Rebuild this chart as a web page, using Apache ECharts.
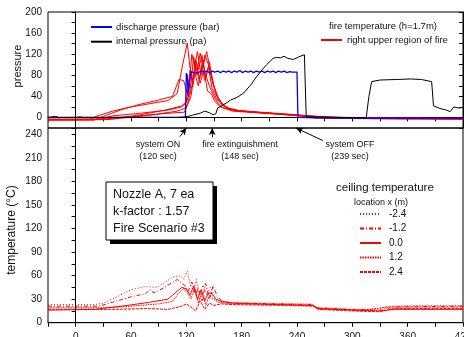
<!DOCTYPE html>
<html>
<head>
<meta charset="utf-8">
<script src="https://cdn.jsdelivr.net/npm/echarts@6/dist/echarts.min.js"></script>
<style>
  html, body { margin: 0; padding: 0; background: #fff; }
  #chart { width: 464px; height: 337px; }
</style>
</head>
<body>
<div id="chart"></div>
<script>
// time axis (sec) and tick labels
const timeTicks = [0, 60, 120, 180, 240, 300, 360, 420];
const pressureTicks = [0, 40, 80, 120, 160, 200];
const tempTicks = [0, 30, 60, 90, 120, 150, 180, 210, 240];
const eventTimes = [120, 148, 239];

// top panel: [time, value]
const dischargeP = [[-30,0],[119,0],[120,84],[121,80],[122,45],[124,44],[125,87],[128,85],[130,88],[133,85],[136,88],[139,86],[142,88],[145,85],[148,88],[151,86],[154,88],[157,85],[160,88],[163,86],[166,88],[169,85],[172,88],[175,86],[178,89],[181,85],[184,88],[187,86],[190,88],[193,85],[196,88],[199,86],[202,88],[205,85],[208,88],[211,86],[214,88],[217,85],[220,88],[223,86],[226,88],[229,85],[232,87],[235,86],[240,86],[241,0],[270,-1],[420,-1]];
const internalP = [[-30,0],[-22,2],[-18,0],[0,0],[5,1],[8,0],[60,0],[110,0],[119,1],[122,2],[128,5],[135,8],[140,12],[145,9],[149,5],[152,7],[154,18],[158,22],[163,27],[168,33],[175,38],[182,46],[190,62],[196,77],[202,90],[207,100],[214,112],[218,114],[222,113],[226,116],[230,112],[236,110],[242,115],[248,119],[250,2],[260,1],[290,0],[315,-1],[318,40],[321,68],[330,71],[348,72],[363,73],[375,72],[386,68],[388,22],[395,17],[402,14],[406,11],[410,20],[415,18],[420,19]];
const fireT1 = [[-30,-4],[15,-4],[22,2],[40,12],[60,20],[80,26],[100,32],[110,45],[116,100],[121,141],[124,95],[127,70],[130,110],[133,90],[137,118],[140,85],[145,60],[150,40],[155,25],[160,18],[170,14],[200,9],[240,4],[260,-1],[300,-2],[360,-3],[420,-3]];
const fireT2 = [[-30,-5],[20,-5],[30,2],[50,15],[70,25],[90,33],[105,40],[112,72],[117,70],[122,40],[126,120],[129,95],[132,125],[136,80],[140,118],[144,100],[148,70],[152,45],[158,28],[165,18],[180,12],[220,7],[250,2],[300,-2],[420,-3]];
const fireT3 = [[-30,-4],[25,-4],[40,3],[70,8],[100,14],[115,20],[120,28],[124,50],[128,115],[131,80],[135,122],[138,95],[142,125],[146,90],[150,60],[155,35],[162,20],[175,13],[210,8],[245,3],[300,-1],[420,-2]];
const fireT4 = [[-30,-3],[30,-3],[60,2],[100,8],[118,10],[122,30],[126,60],[130,100],[134,70],[138,110],[141,75],[145,105],[149,65],[153,40],[160,22],[170,14],[200,10],[240,5],[280,0],[420,-2]];
const fireT5 = [[-30,-4],[40,-3],[80,4],[110,12],[120,18],[125,40],[129,85],[133,60],[137,100],[140,70],[144,95],[148,55],[152,38],[158,25],[168,15],[190,10],[230,6],[270,0],[420,-3]];
const fireT6 = [[-30,-5],[35,-4],[70,5],[100,15],[115,22],[120,30],[124,90],[127,60],[131,105],[135,65],[139,90],[143,50],[147,45],[151,30],[157,20],[170,12],[220,6],[260,1],[420,-3]];

// bottom panel: ceiling temperature by location x (m)
const ceilM24 = [[-30,23],[20,23],[30,25],[45,33],[60,42],[75,46],[88,45],[95,50],[105,58],[112,60],[117,55],[121,66],[124,50],[128,40],[131,55],[134,30],[138,48],[142,35],[146,45],[150,32],[156,28],[165,26],[200,25],[240,24],[255,24],[262,19],[290,17],[320,16],[340,21],[380,22],[420,22]];
const ceilM12 = [[-30,21],[25,21],[40,26],[60,33],[76,37],[80,42],[85,38],[95,44],[110,55],[118,48],[122,40],[126,52],[130,35],[133,45],[137,28],[141,50],[145,30],[149,47],[153,35],[158,28],[170,25],[220,24],[256,23],[262,19],[300,17],[330,16],[345,20],[420,21]];
const ceil00 = [[-30,16],[20,17],[50,21],[80,26],[100,30],[108,38],[115,45],[120,43],[124,35],[128,47],[132,30],[136,42],[140,28],[144,38],[148,37],[152,30],[158,27],[170,25],[220,23],[257,22],[262,18],[300,16],[330,15],[345,17],[420,17]];
const ceil12 = [[-30,19],[30,19],[60,21],[90,24],[105,27],[110,35],[117,44],[121,38],[125,30],[129,45],[133,25],[137,38],[141,22],[145,35],[149,30],[155,26],[170,24],[230,23],[258,22],[263,18],[310,16],[340,20],[420,20]];
const ceil24 = [[-30,17],[40,17],[80,18],[100,17],[115,21],[120,24],[125,20],[130,15],[135,28],[140,17],[145,25],[150,22],[158,24],[170,23],[230,22],[258,21],[263,17],[300,15],[330,14],[345,18],[420,18]];

const FONT = '"Liberation Sans", Arial, sans-serif';
const RED = '#ff0000';
const TXT = '#111';

const chart = echarts.init(document.getElementById('chart'), null, { renderer: 'canvas' });

function fireSeries(data) {
  return {
    name: 'right upper region of fire', type: 'line', xAxisIndex: 0, yAxisIndex: 0,
    data: data, showSymbol: false, symbol: 'none',
    lineStyle: { color: RED, width: 1 }, itemStyle: { color: RED }
  };
}

function ceilSeries(name, data, dash, extra) {
  return Object.assign({
    name: name, type: 'line', xAxisIndex: 1, yAxisIndex: 2,
    data: data, showSymbol: false, symbol: 'none',
    lineStyle: { color: RED, width: 1, type: dash }, itemStyle: { color: RED }
  }, extra || {});
}

const tickLabel = { fontSize: 10, fontFamily: FONT, color: TXT };
// legend shows the line only, no symbol
const noSymbol = { opacity: 0 };

const option = {
  animation: false,
  backgroundColor: '#fff',
  grid: [
    { left: 48, right: 1, top: 12, height: 116, outerBoundsMode: 'none', show: true, borderColor: '#000', borderWidth: 1, backgroundColor: 'transparent' },
    { left: 48, right: 1, top: 128, bottom: 14.3, outerBoundsMode: 'none', show: true, borderColor: '#000', borderWidth: 1, backgroundColor: 'transparent' }
  ],
  xAxis: [
    {
      type: 'value', gridIndex: 0, min: -30, max: 420, interval: 30,
      axisLine: { lineStyle: { color: '#000' } },
      axisTick: { length: 4, lineStyle: { color: '#000' } },
      axisLabel: { show: false },
      splitLine: { show: false }
    },
    {
      type: 'value', gridIndex: 1, min: -30, max: 420, interval: 30,
      axisLine: { lineStyle: { color: '#000' } },
      axisTick: { length: 4, lineStyle: { color: '#000' } },
      axisLabel: Object.assign({ margin: 10, formatter: v => timeTicks.includes(v) ? String(v) : '' }, tickLabel),
      splitLine: { show: false }
    }
  ],
  yAxis: [
    {
      type: 'value', gridIndex: 0, min: -20, max: 200, interval: 20,
      axisLine: { show: true, lineStyle: { color: '#000' } },
      axisTick: { show: true, length: 4, lineStyle: { color: '#000' } },
      axisLabel: Object.assign({ margin: 6, formatter: v => pressureTicks.includes(v) ? String(v) : '' }, tickLabel),
      splitLine: { show: false }
    },
    {
      type: 'value', gridIndex: 0, position: 'right', min: -20, max: 200, interval: 20,
      axisLine: { show: true, lineStyle: { color: '#000' } },
      axisTick: { show: true, inside: true, length: 4, lineStyle: { color: '#000' } },
      axisLabel: { show: false },
      splitLine: { show: false }
    },
    {
      type: 'value', gridIndex: 1, min: 0, max: 248, interval: 15,
      axisLine: { show: true, lineStyle: { color: '#000' } },
      axisTick: { show: true, length: 4, lineStyle: { color: '#000' } },
      axisLabel: Object.assign({ margin: 6, showMaxLabel: false, formatter: v => tempTicks.includes(v) ? String(v) : '' }, tickLabel),
      splitLine: { show: false }
    }
  ],
  legend: [
    {
      data: ['discharge pressure (bar)', 'internal pressure (pa)'],
      orient: 'vertical', left: 90, top: 22, padding: 0,
      itemWidth: 21, itemHeight: 8, itemGap: 4.7, itemStyle: noSymbol,
      textStyle: { fontSize: 9.5, fontFamily: FONT, color: TXT, padding: [0, 0, 0, -1] }
    },
    {
      data: ['right upper region of fire'],
      orient: 'vertical', left: 320, top: 35, padding: 0,
      itemWidth: 21, itemHeight: 8, itemStyle: noSymbol,
      textStyle: { fontSize: 9.5, fontFamily: FONT, color: TXT }
    },
    {
      data: ['-2.4', '-1.2', '0.0', '1.2', '2.4'],
      orient: 'vertical', left: 359, top: 209, padding: 0,
      itemWidth: 21, itemHeight: 8, itemGap: 4.5, itemStyle: noSymbol,
      textStyle: { fontSize: 10, fontFamily: FONT, color: TXT, padding: [0, 0, 0, 3] }
    }
  ],
  graphic: [
    { type: 'text', left: 329, top: 21, style: { text: 'fire temperature (h=1.7m)', font: '9.5px ' + FONT, fill: TXT } },
    { type: 'text', x: 18, y: 66, rotation: Math.PI / 2, style: { text: 'pressure', font: '11px ' + FONT, fill: TXT, align: 'center', verticalAlign: 'middle' } },
    { type: 'text', x: 12, y: 230, rotation: Math.PI / 2, style: { text: 'temperature (°C)', font: '12px ' + FONT, fill: TXT, align: 'center', verticalAlign: 'middle' } },
    { type: 'text', x: 158, y: 145, style: { text: 'system ON', font: '9px ' + FONT, fill: TXT, align: 'center', verticalAlign: 'middle' } },
    { type: 'text', x: 158, y: 157, style: { text: '(120 sec)', font: '9px ' + FONT, fill: TXT, align: 'center', verticalAlign: 'middle' } },
    { type: 'text', x: 240, y: 145, style: { text: 'fire extinguishment', font: '9px ' + FONT, fill: TXT, align: 'center', verticalAlign: 'middle' } },
    { type: 'text', x: 240, y: 157, style: { text: '(148 sec)', font: '9px ' + FONT, fill: TXT, align: 'center', verticalAlign: 'middle' } },
    { type: 'text', x: 350, y: 145, style: { text: 'system OFF', font: '9px ' + FONT, fill: TXT, align: 'center', verticalAlign: 'middle' } },
    { type: 'text', x: 350, y: 157, style: { text: '(239 sec)', font: '9px ' + FONT, fill: TXT, align: 'center', verticalAlign: 'middle' } },
    { type: 'text', left: 336, top: 182, style: { text: 'ceiling temperature', font: '11.5px ' + FONT, fill: TXT } },
    { type: 'text', left: 354, top: 198, style: { text: 'location x (m)', font: '9px ' + FONT, fill: TXT } },
    { type: 'rect', shape: { x: 110, y: 186, width: 107, height: 58 }, style: { fill: '#000' } },
    { type: 'rect', shape: { x: 106, y: 182, width: 107, height: 58 }, style: { fill: '#fff', stroke: '#000', lineWidth: 1 } },
    { type: 'text', left: 113, top: 188, style: { text: 'Nozzle A, 7 ea', font: '12.5px ' + FONT, fill: TXT } },
    { type: 'text', left: 113, top: 205, style: { text: 'k-factor : 1.57', font: '12.5px ' + FONT, fill: TXT } },
    { type: 'text', left: 113, top: 222, style: { text: 'Fire Scenario #3', font: '12.5px ' + FONT, fill: TXT } }
  ],
  series: [
    fireSeries(fireT1), fireSeries(fireT2), fireSeries(fireT3),
    fireSeries(fireT4), fireSeries(fireT5), fireSeries(fireT6),
    {
      name: 'discharge pressure (bar)', type: 'line', xAxisIndex: 0, yAxisIndex: 0,
      data: dischargeP, showSymbol: false, symbol: 'none',
      lineStyle: { color: '#0000ff', width: 1.3 }, itemStyle: { color: '#0000ff' }
    },
    {
      name: 'internal pressure (pa)', type: 'line', xAxisIndex: 0, yAxisIndex: 0,
      data: internalP, showSymbol: false, symbol: 'none',
      lineStyle: { color: '#000', width: 1 }, itemStyle: { color: '#000' },
      markLine: {
        silent: true, symbol: 'none', label: { show: false },
        lineStyle: { color: '#000', width: 1, type: 'solid' },
        data: [{ xAxis: 0 }]
      }
    },
    ceilSeries('-2.4', ceilM24, [1, 2], {
      markLine: {
        silent: true, symbol: 'none', label: { show: false },
        lineStyle: { color: '#000', width: 1, type: 'solid' },
        data: [{ xAxis: 0 }]
      }
    }),
    ceilSeries('-1.2', ceilM12, [4, 2, 1, 2]),
    ceilSeries('0.0', ceil00, 'solid', {
      markLine: {
        silent: true, symbol: ['none', 'arrow'], symbolSize: [5, 7], label: { show: false },
        lineStyle: { color: '#000', width: 1, type: 'solid' },
        data: [
          [{ coord: [113, 237] }, { coord: [eventTimes[0], 248] }],
          [{ coord: [eventTimes[1], 236] }, { coord: [eventTimes[1], 248] }],
          [{ coord: [268, 232] }, { coord: [eventTimes[2], 248] }]
        ]
      }
    }),
    ceilSeries('1.2', ceil12, [1.5, 1]),
    ceilSeries('2.4', ceil24, [3, 1])
  ]
};

chart.setOption(option);
</script>
</body>
</html>
